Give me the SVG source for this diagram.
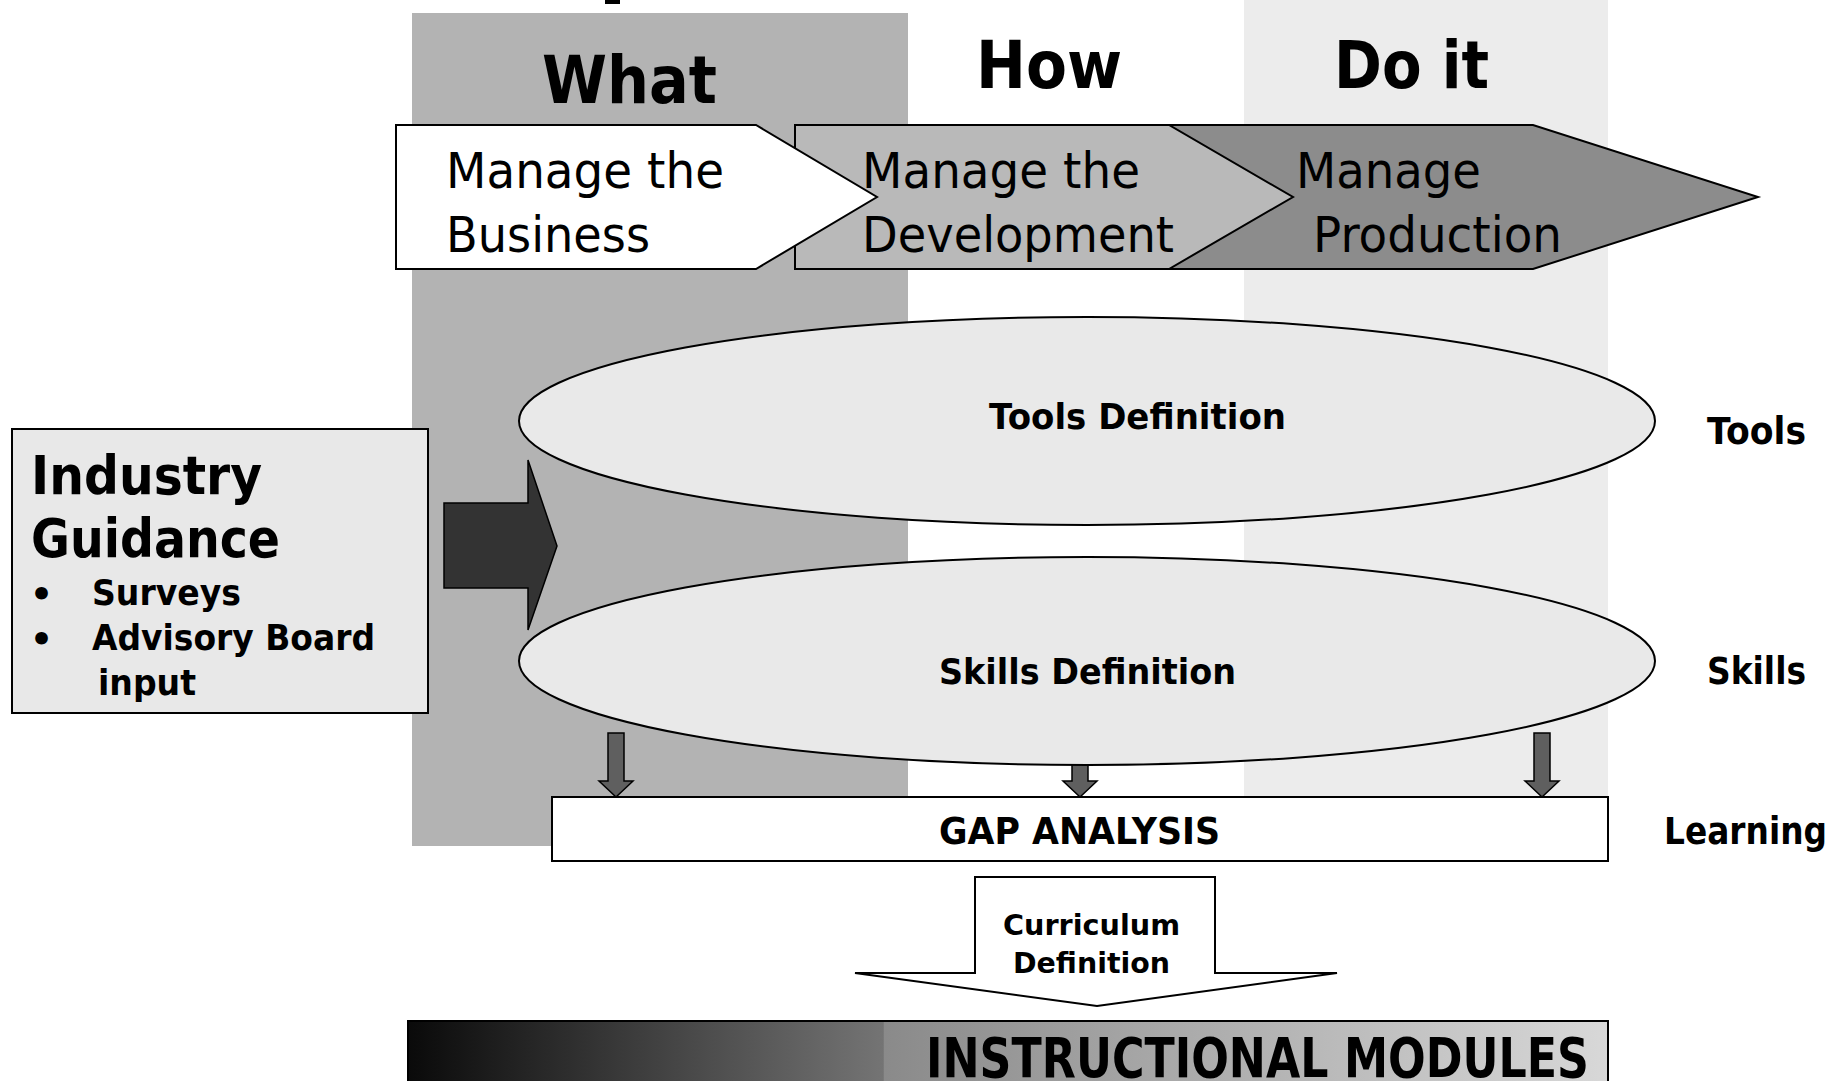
<svg xmlns="http://www.w3.org/2000/svg" width="1847" height="1081" viewBox="0 0 1847 1081">
<defs>
<style>
text{font-family:"DejaVu Sans","Liberation Sans",sans-serif;fill:#000}
.b{font-weight:bold}
.hdr{font-size:65px;font-weight:bold}
.chev{font-size:49px}
.lbl{font-size:37px;font-weight:bold}
.ln{stroke:#000;stroke-width:2}
.sarrow{fill:#5f5f5f;stroke:#000;stroke-width:1.5}
</style>
<linearGradient id="gbar" x1="0" y1="0" x2="1" y2="0">
<stop offset="0" stop-color="#0a0a0a"/>
<stop offset="0.396" stop-color="#747474"/>
<stop offset="0.397" stop-color="#8a8a8a"/>
<stop offset="1" stop-color="#d8d8d8"/>
</linearGradient>
</defs>
<rect width="1847" height="1081" fill="#fff"/>
<g id="columns">
<rect x="412" y="13" width="496" height="833" fill="#b3b3b3"/>
<rect x="1244" y="0" width="364" height="800" fill="#ececec"/>
<rect x="605" y="0" width="15" height="4" fill="#000"/>
</g>
<g id="headers">
<text class="hdr" x="542" y="103" textLength="175" lengthAdjust="spacingAndGlyphs">What</text>
<text class="hdr" x="976" y="88" textLength="146" lengthAdjust="spacingAndGlyphs">How</text>
<text class="hdr" x="1334" y="88" textLength="155" lengthAdjust="spacingAndGlyphs">Do it</text>
</g>
<g id="chevron-production">
<polygon class="ln" points="1150,125 1533,125 1758,197 1533,269 1150,269" fill="#8c8c8c"/>
<text class="chev" x="1296" y="188" textLength="185" lengthAdjust="spacingAndGlyphs">Manage</text>
<text class="chev" x="1313" y="252" textLength="249" lengthAdjust="spacingAndGlyphs">Production</text>
</g>
<g id="chevron-development">
<polygon class="ln" points="795,125 1169,125 1293,197 1169,269 795,269" fill="#b9b9b9"/>
<text class="chev" x="862" y="188" textLength="278" lengthAdjust="spacingAndGlyphs">Manage the</text>
<text class="chev" x="862" y="252" textLength="312" lengthAdjust="spacingAndGlyphs">Development</text>
</g>
<g id="chevron-business">
<polygon class="ln" points="396,125 756,125 877,197 756,269 396,269" fill="#fff"/>
<text class="chev" x="446" y="188" textLength="278" lengthAdjust="spacingAndGlyphs">Manage the</text>
<text class="chev" x="446" y="252" textLength="204" lengthAdjust="spacingAndGlyphs">Business</text>
</g>
<g id="industry-guidance">
<rect class="ln" x="12" y="429" width="416" height="284" fill="#e8e8e8"/>
<text class="b" x="31" y="494" font-size="53" textLength="231" lengthAdjust="spacingAndGlyphs">Industry</text>
<text class="b" x="31" y="557" font-size="53" textLength="249" lengthAdjust="spacingAndGlyphs">Guidance</text>
<text class="b" x="30" y="607" font-size="36">•</text>
<text class="b" x="92" y="605" font-size="36" textLength="149" lengthAdjust="spacingAndGlyphs">Surveys</text>
<text class="b" x="30" y="652" font-size="36">•</text>
<text class="b" x="92" y="650" font-size="36" textLength="283" lengthAdjust="spacingAndGlyphs">Advisory Board</text>
<text class="b" x="98" y="695" font-size="36" textLength="98" lengthAdjust="spacingAndGlyphs">input</text>
</g>
<g id="connectors">
<polygon points="444,503 528,503 528,460 557,546 528,630 528,588 444,588" fill="#333" stroke="#000" stroke-width="1.5"/>
<polygon class="sarrow" points="1072,740 1088,740 1088,781 1097,781 1080,797 1063,781 1072,781"/>
</g>
<g id="tools-definition">
<ellipse class="ln" cx="1087" cy="421" rx="568" ry="104" fill="#e9e9e9"/>
<text class="b" x="989" y="429" font-size="36" textLength="297" lengthAdjust="spacingAndGlyphs">Tools Definition</text>
</g>
<g id="skills-definition">
<ellipse class="ln" cx="1087" cy="661" rx="568" ry="104" fill="#e9e9e9"/>
<text class="b" x="939" y="684" font-size="36" textLength="297" lengthAdjust="spacingAndGlyphs">Skills Definition</text>
</g>
<g id="connectors-side">
<polygon class="sarrow" points="608,733 624,733 624,781 633,781 616,797 599,781 608,781"/>
<polygon class="sarrow" points="1534,733 1550,733 1550,781 1559,781 1542,797 1525,781 1534,781"/>
</g>
<g id="gap-analysis">
<rect class="ln" x="552" y="797" width="1056" height="64" fill="#fff"/>
<text class="lbl" x="939" y="844" textLength="281" lengthAdjust="spacingAndGlyphs">GAP ANALYSIS</text>
</g>
<g id="row-labels">
<text class="lbl" x="1707" y="444" textLength="99" lengthAdjust="spacingAndGlyphs">Tools</text>
<text class="lbl" x="1707" y="684" textLength="99" lengthAdjust="spacingAndGlyphs">Skills</text>
<text class="lbl" x="1664" y="844" textLength="163" lengthAdjust="spacingAndGlyphs">Learning</text>
</g>
<g id="curriculum-definition">
<polygon class="ln" points="975,877 1215,877 1215,973 1337,973 1097,1006 855,973 975,973" fill="#fff"/>
<text class="b" x="1003" y="935" font-size="29" textLength="177" lengthAdjust="spacingAndGlyphs">Curriculum</text>
<text class="b" x="1013" y="973" font-size="29" textLength="157" lengthAdjust="spacingAndGlyphs">Definition</text>
</g>
<g id="instructional-modules">
<rect x="408" y="1021" width="1200" height="62" fill="url(#gbar)" stroke="#000" stroke-width="2"/>
<text class="b" x="926" y="1077" font-size="55" textLength="663" lengthAdjust="spacingAndGlyphs">INSTRUCTIONAL MODULES</text>
</g>
</svg>
